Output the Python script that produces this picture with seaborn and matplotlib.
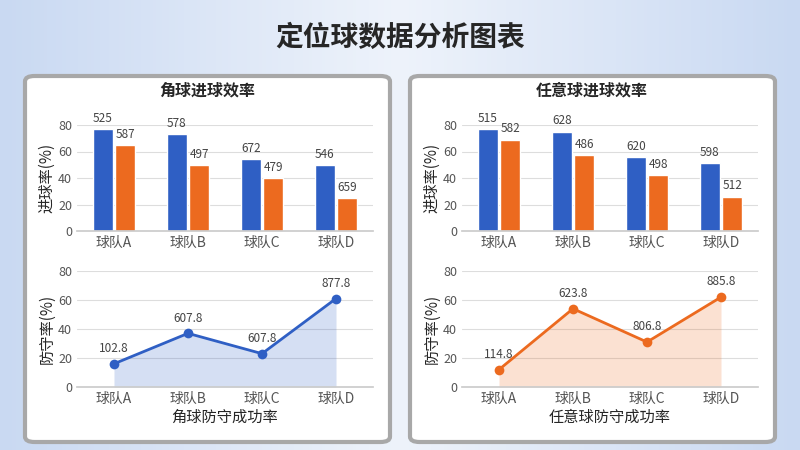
import matplotlib.pyplot as plt
import seaborn as sns
import pandas as pd
import numpy as np
from matplotlib.patches import FancyBboxPatch

sns.set_theme(style="white")
plt.rcParams['font.family'] = ['Noto Sans CJK SC', 'DejaVu Sans']

teams = ["球队A", "球队B", "球队C", "球队D"]

corner_blue = [77, 73, 54, 50]
corner_orange = [65, 50, 40, 25]
corner_blue_labels = ["525", "578", "672", "546"]
corner_orange_labels = ["587", "497", "479", "659"]
corner_def = [16, 37, 23, 61]
corner_def_labels = ["102.8", "607.8", "607.8", "877.8"]

free_blue = [77, 75, 56, 51]
free_orange = [69, 57, 42, 26]
free_blue_labels = ["515", "628", "620", "598"]
free_orange_labels = ["582", "486", "498", "512"]
free_def = [12, 54, 31, 62]
free_def_labels = ["114.8", "623.8", "806.8", "885.8"]

BLUE = "#2f5fc4"
ORANGE = "#ec6a1f"
W, H = 800, 450

fig = plt.figure(figsize=(8, 4.5), dpi=100)

# background gradient
bg = fig.add_axes([0, 0, 1, 1])
grad = np.linspace(0, 1, 256).reshape(1, -1)
bg.imshow(np.vstack([grad] * 2), aspect="auto", extent=[0, 1, 0, 1],
          cmap=plt.matplotlib.colors.LinearSegmentedColormap.from_list(
              "bg", ["#c9d9f2", "#eef3fb", "#c9d9f2"]))
bg.set_xlim(0, 1)
bg.set_ylim(0, 1)
bg.axis("off")
for x0 in (25, 410):
    bg.add_patch(FancyBboxPatch((x0 / W, 8 / H), 365 / W, 366 / H,
                                boxstyle="round,pad=0,rounding_size=0.012",
                                fc="white", ec="#a8a8a8", lw=3))
fig.text(0.5, 1 - 38 / H, "定位球数据分析图表", ha="center", va="center",
         fontsize=20, fontweight="bold")


def px(x0, y0, x1, y1):
    return [x0 / W, 1 - y1 / H, (x1 - x0) / W, (y1 - y0) / H]


def style(ax, ylabel):
    ax.set_ylim(0, 80)
    ax.set_yticks([0, 20, 40, 60, 80])
    ax.grid(axis="y", color="#dddddd", lw=0.8)
    ax.set_axisbelow(True)
    for s in ("top", "right", "left"):
        ax.spines[s].set_visible(False)
    ax.spines["bottom"].set_color("#cccccc")
    ax.tick_params(axis="both", length=0, labelsize=9, colors="#555555")
    ax.tick_params(axis="x", labelsize=10)
    ax.set_ylabel(ylabel, fontsize=11, labelpad=2)
    ax.set_xlabel("")


def panel(x0, title, blue, orange, bl, ol, dvals, dl, color, xlabel):
    fig.text((x0 + 182) / W, 1 - 90 / H, title, ha="center", va="center",
             fontsize=11.5, fontweight="bold")
    ax = fig.add_axes(px(x0 + 52, 125, x0 + 348, 231))
    df = pd.DataFrame({"team": teams * 2, "val": blue + orange,
                       "s": ["a"] * 4 + ["b"] * 4})
    sns.barplot(data=df, x="team", y="val", hue="s", palette=[BLUE, ORANGE],
                saturation=1, width=0.6, gap=0.1, legend=False, ax=ax)
    for cont, labs in zip(ax.containers, (bl, ol)):
        ax.bar_label(cont, labels=labs, padding=3, fontsize=8.5, color="#444444")
    style(ax, "进球率(%)")

    ax2 = fig.add_axes(px(x0 + 52, 271, x0 + 348, 387))
    sns.lineplot(x=teams, y=dvals, color=color, marker="o", markersize=7,
                 markeredgewidth=0, lw=2, ax=ax2)
    xs = np.arange(4)
    ax2.fill_between(xs, dvals, 0, color=color, alpha=0.2, lw=0)
    for x, y, t in zip(xs, dvals, dl):
        ax2.text(x, y + 6, t, ha="center", va="bottom", fontsize=8.5, color="#444444")
    ax2.set_xlim(-0.5, 3.5)
    style(ax2, "防守率(%)")
    ax2.set_xlabel(xlabel, fontsize=11, labelpad=2)


panel(25, "角球进球效率", corner_blue, corner_orange, corner_blue_labels,
      corner_orange_labels, corner_def, corner_def_labels, BLUE, "角球防守成功率")
panel(410, "任意球进球效率", free_blue, free_orange, free_blue_labels,
      free_orange_labels, free_def, free_def_labels, ORANGE, "任意球防守成功率")

fig.savefig("out.png", dpi=100)
